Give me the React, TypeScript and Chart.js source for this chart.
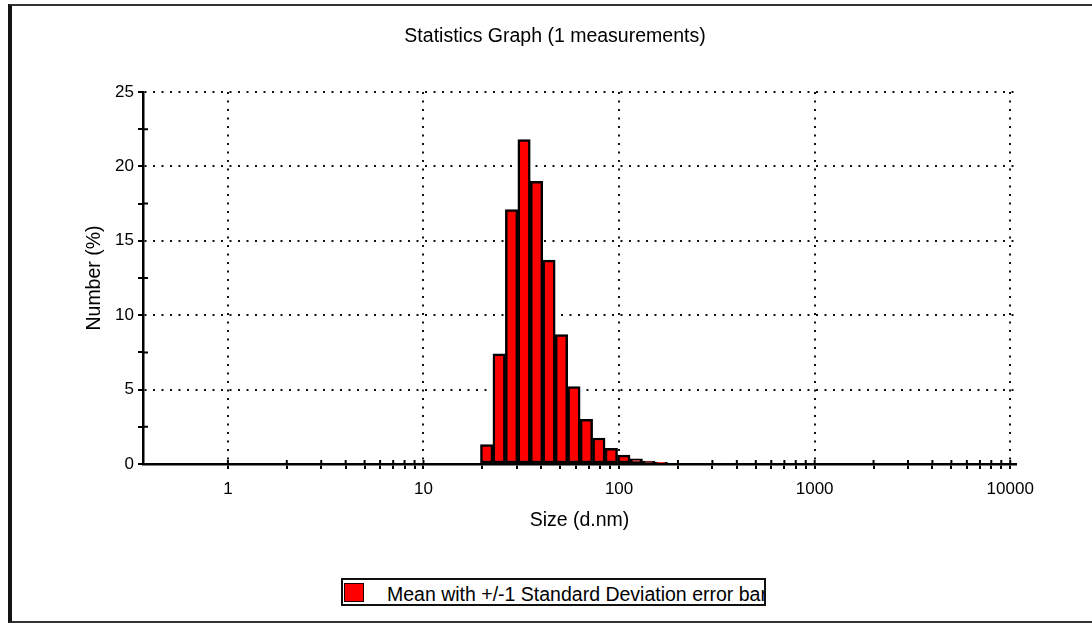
import React, { useEffect, useRef } from 'react';
import { Chart, registerables } from 'chart.js';

Chart.register(...registerables);

// Size bins (d.nm), Malvern-style log bins, and Number (%) per bin
const sizes = [21.04, 24.36, 28.21, 32.67, 37.84, 43.82, 50.75, 58.77, 68.06, 78.82, 91.28, 105.7, 122.4, 141.8, 164.2];
const numberPct = [1.3, 7.4, 17.1, 21.8, 19.0, 13.7, 8.7, 5.2, 3.0, 1.75, 1.05, 0.6, 0.35, 0.2, 0.12];

const xLabelValues = [1, 10, 100, 1000, 10000];
const yLabelValues = [5, 10, 15, 20, 25];
const yTickLabels = [0, 5, 10, 15, 20, 25];

const chartTitle = 'Statistics Graph (1 measurements)';
const xTitle = 'Size (d.nm)';
const yTitle = 'Number (%)';
const legendText = 'Mean with +/-1 Standard Deviation error bar';

const FONT = '"Liberation Sans", Arial, Helvetica, sans-serif';

const isDecade = (v: number) => xLabelValues.some((d) => Math.abs(v - d) / d < 1e-6);
const xTickVisible = (v: number) => {
  if (!(v >= 0.999 && v <= 10000.1)) return false;
  const sig = v / Math.pow(10, Math.floor(Math.log10(v) + 1e-9));
  return Math.abs(sig - Math.round(sig)) < 1e-6;
};

// draws the inner half of tick marks so they cross the axis lines
const crossTicks = {
  id: 'crossTicks',
  beforeDatasetsDraw(chart: any) {
    const { ctx, chartArea } = chart;
    const xs = chart.scales.x;
    const ys = chart.scales.y;
    ctx.save();
    ctx.strokeStyle = '#000';
    ctx.lineWidth = 2;
    ctx.beginPath();
    xs.ticks.forEach((t: any) => {
      if (!xTickVisible(t.value)) return;
      const px = xs.getPixelForValue(t.value);
      ctx.moveTo(px, chartArea.bottom);
      ctx.lineTo(px, chartArea.bottom - 4);
    });
    ys.ticks.forEach((t: any) => {
      if (yTickLabels.includes(t.value)) return;
      const py = ys.getPixelForValue(t.value);
      ctx.moveTo(chartArea.left, py);
      ctx.lineTo(chartArea.left + 5, py);
    });
    ctx.stroke();
    ctx.restore();
  },
};

export default function App() {
  const ref = useRef<HTMLCanvasElement | null>(null);

  useEffect(() => {
    if (!ref.current) return;
    const chart = new Chart(ref.current, {
      type: 'bar',
      plugins: [crossTicks],
      data: {
        datasets: [
          {
            label: legendText,
            data: sizes.map((s, i) => ({ x: s, y: numberPct[i] })),
            backgroundColor: '#ff0000',
            borderColor: '#000000',
            borderWidth: 2.5,
            borderSkipped: false,
            barPercentage: 1,
            categoryPercentage: 1,
          } as any,
        ],
      },
      options: {
        responsive: false,
        animation: false,
        layout: { padding: { left: 94, right: 76, top: 0, bottom: 86.3 } },
        plugins: {
          legend: { display: false },
          tooltip: { enabled: false },
          title: {
            display: true,
            text: chartTitle,
            color: '#000',
            font: { size: 19.5, family: FONT, weight: 'normal' },
            padding: { top: 25.3, bottom: 43.3 },
          },
        },
        scales: {
          x: {
            type: 'logarithmic',
            min: 0.368,
            max: 10700,
            offset: false,
            afterFit: (s: any) => {
              s.height = 72.7;
            },
            ticks: {
              autoSkip: false,
              maxRotation: 0,
              minRotation: 0,
              color: '#000',
              font: { size: 17, family: FONT },
              padding: 10,
              callback: (v: any) => (isDecade(Number(v)) ? String(Number(v)) : ''),
            },
            grid: {
              offset: false,
              color: (ctx: any) => (ctx.tick && isDecade(ctx.tick.value) ? '#111' : 'rgba(0,0,0,0)'),
              lineWidth: 2,
              tickLength: 5,
              tickWidth: 2,
              tickColor: (ctx: any) => (ctx.tick && xTickVisible(ctx.tick.value) ? '#000' : 'rgba(0,0,0,0)'),
            },
            border: { display: true, color: '#000', width: 2.5, dash: [2, 6.5] },
            title: {
              display: true,
              text: xTitle,
              color: '#000',
              font: { size: 19.5, family: FONT },
              padding: { top: 0, bottom: 4 },
            },
          },
          y: {
            type: 'linear',
            min: 0,
            max: 25,
            afterFit: (s: any) => {
              s.width = 49;
            },
            ticks: {
              stepSize: 2.5,
              autoSkip: false,
              color: '#000',
              font: { size: 17, family: FONT },
              padding: 4,
              callback: (v: any) => (yTickLabels.includes(Number(v)) ? String(v) : ''),
            },
            grid: {
              color: (ctx: any) => (ctx.tick && yLabelValues.includes(ctx.tick.value) ? '#111' : 'rgba(0,0,0,0)'),
              lineWidth: 2,
              tickLength: 5,
              tickWidth: 2,
              tickColor: '#000',
            },
            border: { display: true, color: '#000', width: 2.5, dash: [2, 6.5] },
            title: {
              display: true,
              text: yTitle,
              color: '#000',
              font: { size: 19.5, family: FONT },
              padding: { top: -10.7, bottom: 0 },
            },
          },
        },
      },
    });
    // bar width = one log bin on the library's x scale
    const xs: any = chart.scales.x;
    const w = Math.abs(xs.getPixelForValue(sizes[1]) - xs.getPixelForValue(sizes[0]));
    (chart.data.datasets[0] as any).barThickness = w;
    chart.update();
    return () => chart.destroy();
  }, []);

  return (
    <div
      style={{
        position: 'fixed',
        left: 0,
        top: 0,
        width: 1092,
        height: 623,
        overflow: 'hidden',
        background: '#fff',
      }}
    >
      <div
        style={{
          position: 'absolute',
          left: 8,
          top: 4,
          width: 1200,
          height: 619,
          boxSizing: 'border-box',
          borderLeft: '4px solid #141414',
          borderTop: '2px solid #333',
          borderBottom: '2px solid #333',
        }}
      />
      <canvas
        ref={ref}
        width={1092}
        height={623}
        style={{ position: 'absolute', left: 0, top: 0, width: 1092, height: 623 }}
      />
      <div
        style={{
          position: 'absolute',
          left: 341,
          top: 578,
          width: 425,
          height: 28,
          boxSizing: 'border-box',
          border: '2px solid #111',
          background: '#fff',
          overflow: 'hidden',
          fontFamily: FONT,
        }}
      >
        <div
          style={{
            position: 'absolute',
            left: 1,
            top: 3,
            width: 20,
            height: 19,
            boxSizing: 'border-box',
            background: '#ff0000',
            border: '1.5px solid #200',
          }}
        />
        <span
          style={{
            position: 'absolute',
            left: 44,
            top: 1.5,
            fontSize: 19.5,
            lineHeight: '24px',
            whiteSpace: 'nowrap',
            color: '#000',
          }}
        >
          {legendText}
        </span>
      </div>
    </div>
  );
}
